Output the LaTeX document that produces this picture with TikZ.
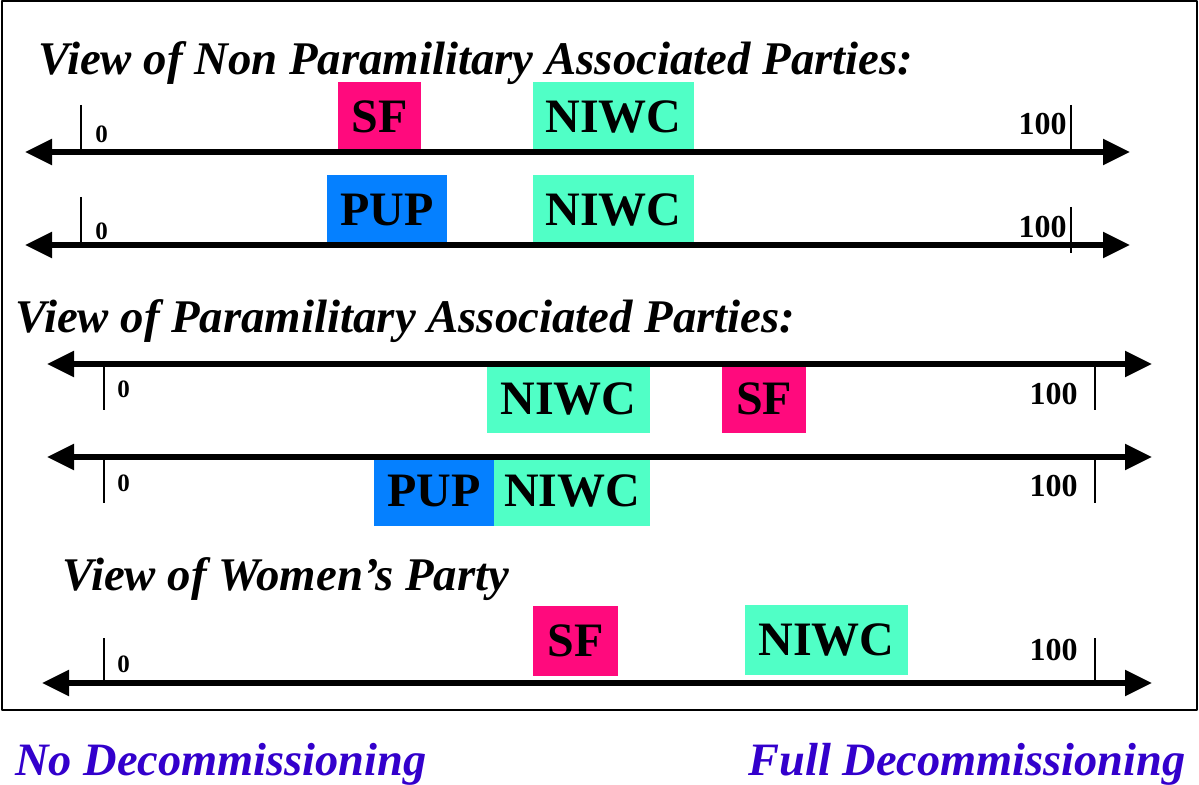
\documentclass[tikz,border=0pt]{standalone}
\usepackage{fontspec}
\setmainfont{Liberation Serif}
\usetikzlibrary{arrows.meta}
\definecolor{sfpink}{HTML}{FF0A7D}
\definecolor{niwcgreen}{HTML}{50FFC6}
\definecolor{pupblue}{HTML}{0580FF}
\definecolor{endblue}{HTML}{3300CC}
\begin{document}
\begin{tikzpicture}[x=0.5pt,y=-0.5pt,>={Triangle[length=13.5pt,width=12.5pt]},line join=round]
\tikzset{
  axis/.style={line width=2.6pt,<->},
  tick/.style={line width=0.6pt},
  party/.style={inner sep=0pt,minimum height=35pt,font=\fontsize{24}{24}\selectfont\bfseries},
  heading/.style={anchor=base west,inner sep=0pt,font=\fontsize{23.4}{24}\selectfont\bfseries\itshape},
  endlabel/.style={anchor=base west,inner sep=0pt,text=endblue,font=\fontsize{23.2}{24}\selectfont\bfseries\itshape},
  zerolabel/.style={anchor=base west,inner sep=0pt,font=\fontsize{12.5}{13}\selectfont\bfseries},
  fulllabel/.style={anchor=base east,inner sep=0pt,font=\fontsize{16}{16}\selectfont\bfseries}
}
\useasboundingbox (0,0) rectangle (1199,785);
\draw[line width=1pt] (2,1) rectangle (1197,710);
% headings
\node[heading] (hnon) at (38,75) {View of Non Paramilitary Associated Parties:};
\node[heading] (hpara) at (15,333) {View of Paramilitary Associated Parties:};
\node[heading] (hwomen) at (62,590) {View of Women’s Party};
% row 1
\node[party,fill=sfpink,minimum width=41.5pt] (sf1) at (379.5,117) {SF};
\node[party,fill=niwcgreen,minimum width=80.5pt] (niwc1) at (613.5,117) {NIWC};
\coordinate (l1) at (25,152); \coordinate (r1) at (1130,152);
\draw[axis] (l1) -- (r1);
\draw[tick] (81,105) -- (81,152) (1071,105) -- (1071,152);
\node[zerolabel] (zero1) at (95,143) {0};
\node[fulllabel] (full1) at (1067,135) {100};
% row 2
\node[party,fill=pupblue,minimum width=60pt] (pup2) at (387,210) {PUP};
\node[party,fill=niwcgreen,minimum width=80.5pt] (niwc2) at (613.5,210) {NIWC};
\coordinate (l2) at (25,245); \coordinate (r2) at (1130,245);
\draw[axis] (l2) -- (r2);
\draw[tick] (81,197) -- (81,245) (1071,207) -- (1071,253);
\node[zerolabel] (zero2) at (95,240) {0};
\node[fulllabel] (full2) at (1067,238) {100};
% row 3
\node[party,fill=niwcgreen,minimum width=81.5pt] (niwc3) at (568.5,398.5) {NIWC};
\node[party,fill=sfpink,minimum width=42pt] (sf3) at (764,398.5) {SF};
\coordinate (l3) at (47,364); \coordinate (r3) at (1152,364);
\draw[axis] (l3) -- (r3);
\draw[tick] (104,364) -- (104,410) (1095,367) -- (1095,410);
\node[zerolabel] (zero3) at (117,398) {0};
\node[fulllabel] (full3) at (1078,405) {100};
% row 4
\node[party,fill=pupblue,minimum width=60pt] (pup4) at (434,491) {PUP};
\node[party,fill=niwcgreen,minimum width=78pt] (niwc4) at (572,491) {NIWC};
\coordinate (l4) at (47,457); \coordinate (r4) at (1152,457);
\draw[axis] (l4) -- (r4);
\draw[tick] (104,457) -- (104,503) (1095,460) -- (1095,503);
\node[zerolabel] (zero4) at (117,492) {0};
\node[fulllabel] (full4) at (1078,497) {100};
% row 5
\node[party,fill=sfpink,minimum width=42.5pt] (sf5) at (575.5,641) {SF};
\node[party,fill=niwcgreen,minimum width=81.5pt] (niwc5) at (826.5,639.5) {NIWC};
\coordinate (l5) at (42,683); \coordinate (r5) at (1152,683);
\draw[axis] (l5) -- (r5);
\draw[tick] (104,638) -- (104,686) (1095,638) -- (1095,686);
\node[zerolabel] (zero5) at (117,672) {0};
\node[fulllabel] (full5) at (1078,660) {100};
% ends of the scale
\node[endlabel] (nodecom) at (15,775) {No Decommissioning};
\node[endlabel] (fulldecom) at (748,775) {Full Decommissioning};
\end{tikzpicture}
\end{document}
